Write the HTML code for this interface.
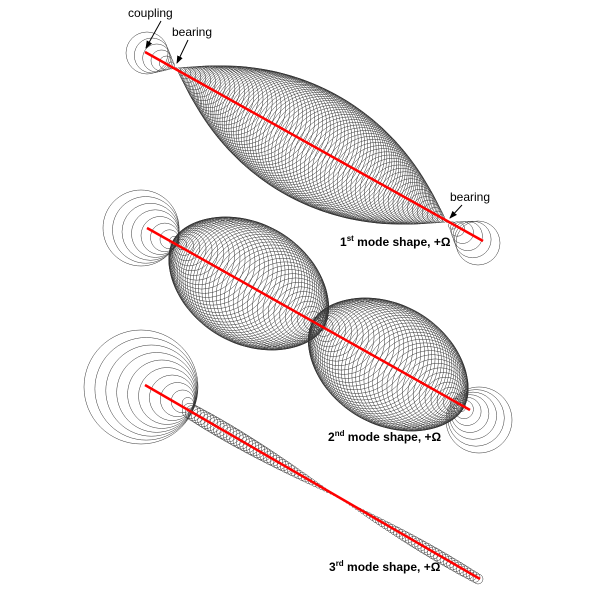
<!DOCTYPE html>
<html><head><meta charset="utf-8">
<style>
html,body{margin:0;padding:0;background:#fff;}
svg{display:block;}
text{font-family:"Liberation Sans",Arial,sans-serif;}
</style></head>
<body>
<svg id="s" width="600" height="600" viewBox="0 0 600 600" xmlns="http://www.w3.org/2000/svg">
<defs><marker id="ah" markerWidth="8" markerHeight="8" refX="7" refY="4" orient="auto" markerUnits="userSpaceOnUse"><path d="M0,1 L8,4 L0,7 z" fill="#000"/></marker></defs>
<g id="c" fill="none" stroke="#333" stroke-width="0.5"></g>
<g id="r" stroke="#f00" stroke-width="2.5">
<line x1="145" y1="52" x2="483" y2="241"/>
<line x1="147" y1="228" x2="470" y2="410"/>
<line x1="145" y1="385" x2="480" y2="579"/>
</g>
<g font-size="12" fill="#000">
<text x="128" y="17">coupling</text>
<text x="172" y="36">bearing</text>
<text x="450" y="201">bearing</text>
</g>
<g stroke="#000" stroke-width="1" marker-end="url(#ah)">
<line x1="161" y1="21" x2="146" y2="48"/>
<line x1="188" y1="40" x2="177" y2="63"/>
<line x1="462" y1="205" x2="450" y2="218"/>
</g>
<g font-size="12" font-weight="bold" fill="#000">
<text x="340" y="246">1<tspan font-size="8" dy="-5">st</tspan><tspan dy="5"> mode shape, +Ω</tspan></text>
<text x="328" y="441">2<tspan font-size="8" dy="-5">nd</tspan><tspan dy="5"> mode shape, +Ω</tspan></text>
<text x="329" y="571">3<tspan font-size="8" dy="-5">rd</tspan><tspan dy="5"> mode shape, +Ω</tspan></text>
</g>
</svg>
<script>
(function(){
var g=document.getElementById('c'),out='';
function C(x,y,r){if(r<0.6)r=0.6;out+='<circle cx="'+x.toFixed(1)+'" cy="'+y.toFixed(1)+'" r="'+r.toFixed(1)+'"/>';}
function ends(bx,by,cx,cy,rmax,n){for(var k=1;k<=n;k++){var f=k/n;C(bx+(cx-bx)*f,by+(cy-by)*f,rmax*f);}}
function span(ax,ay,bx,by,n,rf){for(var k=0;k<=n;k++){var s=k/n;C(ax+(bx-ax)*s,ay+(by-ay)*s,rf(s));}}
// mode 1
ends(176,68,147,53,21,6);
ends(447,222,478,243,22,6);
span(176,68,447,222,90,function(s){return 56*Math.sin(Math.PI*s);});
// mode 2
ends(179,243,141,228,38,8);
ends(458,405,479,420,33,7);
span(179,243,458,405,110,function(s){var v=Math.abs(Math.sin(2*Math.PI*s));return 60*Math.pow(v,0.85);});
// mode 3
ends(193,405,141,387,57,10);
span(190,411,478,579,90,function(s){
 if(s<0.52)return 8.5*Math.sin(Math.PI*(s+0.3)/0.82);
 return 6*Math.sin(Math.PI*(s-0.52)/0.7);});
g.innerHTML=out;
})();
</script>
</body></html>
